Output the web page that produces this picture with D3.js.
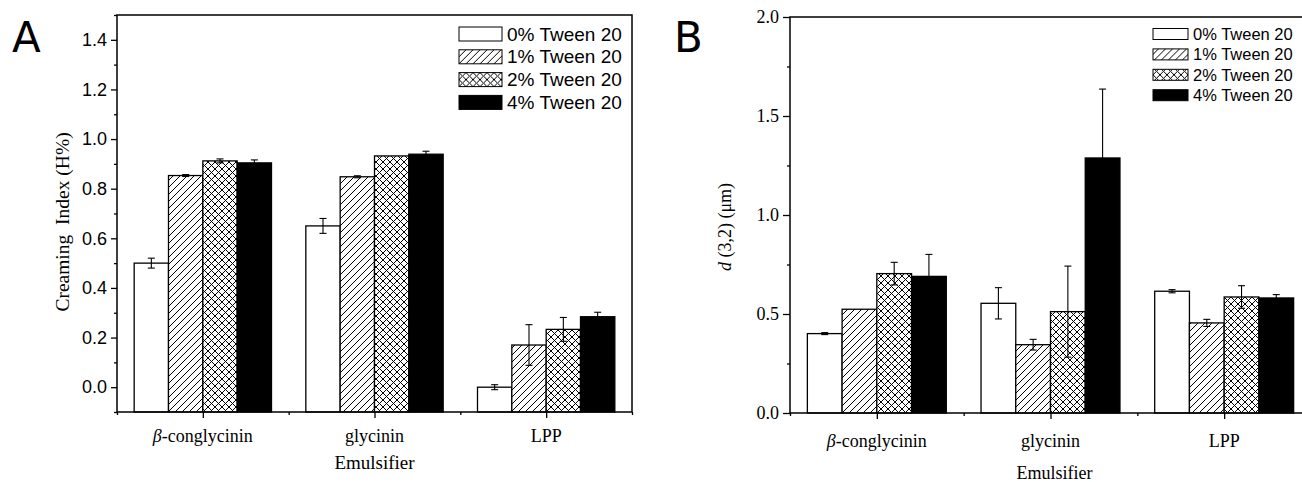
<!DOCTYPE html>
<html>
<head>
<meta charset="utf-8">
<script src="https://cdn.jsdelivr.net/npm/d3@7"></script>
<style>
  body { margin: 0; background: #fff; }
  text { fill: #000; }
</style>
</head>
<body>
<div id="chart"></div>
<script>
// Data
var emulsifiers = ["β-conglycinin", "glycinin", "LPP"];
var tweenLevels = ["0% Tween 20", "1% Tween 20", "2% Tween 20", "4% Tween 20"];

// Panel A - creaming index (H%)
var creamingValues = [
  [0.50, 0.853, 0.912, 0.904],
  [0.65, 0.848, 0.932, 0.939],
  [0.00, 0.170, 0.233, 0.284]
];
var creamingErrors = [
  [0.020, 0.004, 0.008, 0.012],
  [0.030, 0.004, 0.002, 0.012],
  [0.010, 0.082, 0.048, 0.018]
];
var creamingTicks = [0.0, 0.2, 0.4, 0.6, 0.8, 1.0, 1.2, 1.4];

// Panel B - d(3,2) in um
var d32Values = [
  [0.401, 0.524, 0.704, 0.690],
  [0.554, 0.345, 0.512, 1.288],
  [0.615, 0.455, 0.586, 0.581]
];
var d32Errors = [
  [0.005, 0.000, 0.057, 0.111],
  [0.079, 0.027, 0.230, 0.348],
  [0.008, 0.018, 0.057, 0.017]
];
var d32Ticks = [0.0, 0.5, 1.0, 1.5, 2.0];

var svgWidth = 1302;
var svgHeight = 482;

var svg = d3.select("#chart")
  .append("svg")
  .attr("width", svgWidth)
  .attr("height", svgHeight);

// fill patterns
var defs = svg.append("defs");
var hatch = defs.append("pattern")
  .attr("id", "hatch")
  .attr("patternUnits", "userSpaceOnUse")
  .attr("width", 7)
  .attr("height", 7);
hatch.append("rect").attr("width", 7).attr("height", 7).attr("fill", "#fff");
hatch.append("path")
  .attr("d", "M-1,1 l2,-2 M0,7 l7,-7 M6,8 l2,-2")
  .attr("stroke", "#000")
  .attr("stroke-width", 1);

var cross = defs.append("pattern")
  .attr("id", "cross")
  .attr("patternUnits", "userSpaceOnUse")
  .attr("width", 7)
  .attr("height", 7);
cross.append("rect").attr("width", 7).attr("height", 7).attr("fill", "#fff");
cross.append("path")
  .attr("d", "M-1,1 l2,-2 M0,7 l7,-7 M6,8 l2,-2 M-1,6 l2,2 M0,0 l7,7 M6,-1 l2,2")
  .attr("stroke", "#000")
  .attr("stroke-width", 1);

var fills = ["#fff", "url(#hatch)", "url(#cross)", "#000"];

function drawPanel(p) {
  var w = p.right - p.left;
  var h = p.bottom - p.top;
  var g = svg.append("g").attr("transform", `translate(${p.left}, ${p.top})`);

  var x = d3.scaleLinear().domain([0.5, 3.5]).range([0, w]);
  var y = d3.scaleLinear().domain(p.yDomain).range([h, 0]);

  // bars
  p.values.forEach(function(row, ci) {
    row.forEach(function(v, si) {
      var x0 = x(ci + 1 - 0.4 + 0.2 * si);
      var x1 = x(ci + 1 - 0.4 + 0.2 * (si + 1));
      g.append("rect")
        .attr("x", x0)
        .attr("y", y(v))
        .attr("width", x1 - x0)
        .attr("height", h - y(v))
        .attr("fill", fills[si])
        .attr("stroke", "#000")
        .attr("stroke-width", 1.3);

      var e = p.errors[ci][si];
      if (e > 0.003) {
        var cx = (x0 + x1) / 2;
        var eb = g.append("g").attr("stroke", "#000").attr("stroke-width", 1.1);
        eb.append("line").attr("x1", cx).attr("x2", cx).attr("y1", y(v - e)).attr("y2", y(v + e));
        eb.append("line").attr("x1", cx - 3.5).attr("x2", cx + 3.5).attr("y1", y(v + e)).attr("y2", y(v + e));
        eb.append("line").attr("x1", cx - 3.5).attr("x2", cx + 3.5).attr("y1", y(v - e)).attr("y2", y(v - e));
      }
    });
  });

  // frame
  g.append("rect")
    .attr("width", w)
    .attr("height", h)
    .attr("fill", "none")
    .attr("stroke", "#000")
    .attr("stroke-width", 1.5);

  // y axis, major + minor ticks
  var yAxis = g.append("g")
    .call(d3.axisLeft(y).tickValues(p.yTicks).tickSize(p.tickLen).tickPadding(4).tickFormat(d3.format(".1f")));
  yAxis.select(".domain").remove();
  yAxis.selectAll("line").attr("stroke-width", 1.3);
  yAxis.selectAll("text")
    .attr("font-family", p.tickFont)
    .attr("font-size", p.tickSize);

  var yMinor = g.append("g")
    .call(d3.axisLeft(y).tickValues(p.yMinor).tickSize(3).tickFormat(""));
  yMinor.select(".domain").remove();
  yMinor.selectAll("line").attr("stroke-width", 1.3);

  // x axis
  var xAxis = g.append("g")
    .attr("transform", `translate(0, ${h})`)
    .call(d3.axisBottom(x).tickValues([1, 2, 3]).tickSize(6).tickFormat(""));
  xAxis.select(".domain").remove();
  xAxis.selectAll("line").attr("stroke-width", 1.3);

  var xMinor = g.append("g")
    .attr("transform", `translate(0, ${h})`)
    .call(d3.axisBottom(x).tickValues([0.5, 1.5, 2.5, 3.5]).tickSize(3).tickFormat(""));
  xMinor.select(".domain").remove();
  xMinor.selectAll("line").attr("stroke-width", 1.3);

  // category labels
  emulsifiers.forEach(function(name, i) {
    var t = g.append("text")
      .attr("x", x(i + 1))
      .attr("y", h + p.catOffset)
      .attr("text-anchor", "middle")
      .attr("font-family", "Liberation Serif, Times New Roman, serif")
      .attr("font-size", 18);
    if (name.charAt(0) === "β") {
      t.append("tspan").attr("font-style", "italic").text("β");
      t.append("tspan").text(name.slice(1));
    } else {
      t.text(name);
    }
  });

  g.append("text")
    .attr("x", w / 2 + p.titleShift)
    .attr("y", h + p.titleOffset)
    .attr("text-anchor", "middle")
    .attr("font-family", "Liberation Serif, Times New Roman, serif")
    .attr("font-size", p.titleFont)
    .text("Emulsifier");

  // y title
  var yt = svg.append("text")
    .attr("transform", `translate(${p.yTitleX}, ${p.yTitleY}) rotate(-90)`)
    .attr("text-anchor", "middle")
    .attr("font-family", "Liberation Serif, Times New Roman, serif")
    .attr("font-size", p.yTitleFont)
    .style("white-space", "pre");
  p.yTitle(yt);

  // panel letter
  svg.append("text")
    .attr("x", p.letterX)
    .attr("y", 52)
    .attr("font-family", "DejaVu Sans, sans-serif")
    .attr("font-size", 42)
    .text(p.letter);

  // legend
  var lg = svg.append("g").attr("transform", `translate(${p.legendX}, ${p.legendY})`);
  tweenLevels.forEach(function(name, i) {
    var row = lg.append("g").attr("transform", `translate(0, ${i * p.legendStep})`);
    row.append("rect")
      .attr("x", 0)
      .attr("y", -p.boxH / 2)
      .attr("width", p.boxW)
      .attr("height", p.boxH)
      .attr("fill", fills[i])
      .attr("stroke", "#000")
      .attr("stroke-width", 1);
    row.append("text")
      .attr("x", p.boxW + 5)
      .attr("y", 0)
      .attr("dy", "0.35em")
      .attr("font-family", "Liberation Sans, Arial, sans-serif")
      .attr("font-size", p.legendFont)
      .text(name);
  });
}

drawPanel({
  letter: "A", letterX: 12,
  left: 117, top: 15, right: 632, bottom: 412,
  yDomain: [-0.1, 1.5],
  yTicks: creamingTicks,
  yMinor: [-0.1, 0.1, 0.3, 0.5, 0.7, 0.9, 1.1, 1.3, 1.5],
  tickLen: 6,
  tickFont: "Liberation Sans, Arial, sans-serif", tickSize: 18,
  values: creamingValues, errors: creamingErrors,
  catOffset: 30, titleOffset: 57, titleShift: 0, titleFont: 19,
  yTitleX: 69, yTitleY: 222, yTitleFont: 19.5,
  yTitle: function(t) { t.text("Creaming  Index (H%)"); },
  legendX: 459, legendY: 34, legendStep: 22.8, boxW: 43, boxH: 14, legendFont: 19
});

drawPanel({
  letter: "B", letterX: 674,
  left: 790, top: 17, right: 1311, bottom: 413,
  yDomain: [0, 2],
  yTicks: d32Ticks,
  yMinor: [0.25, 0.75, 1.25, 1.75],
  tickLen: 7,
  tickFont: "Liberation Serif, Times New Roman, serif", tickSize: 18,
  values: d32Values, errors: d32Errors,
  catOffset: 34, titleOffset: 66, titleShift: 4, titleFont: 18,
  yTitleX: 731, yTitleY: 227, yTitleFont: 18,
  yTitle: function(t) {
    t.append("tspan").attr("font-style", "italic").text("d");
    t.append("tspan").text(" (3,2) (μm)");
  },
  legendX: 1153, legendY: 34, legendStep: 20.4, boxW: 35, boxH: 11, legendFont: 16.5
});
</script>
</body>
</html>
